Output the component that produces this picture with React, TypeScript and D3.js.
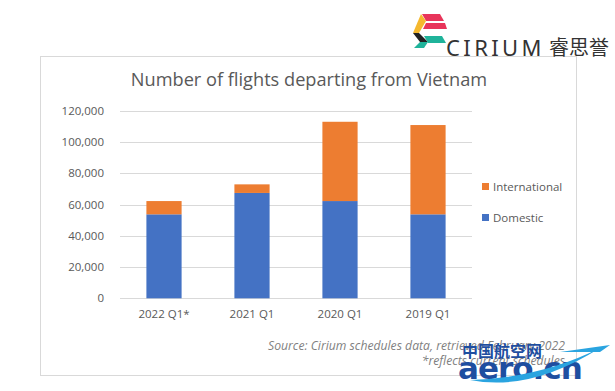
import React, { useRef, useEffect } from 'react';
import * as d3 from 'd3';

const categories = ['2022 Q1*', '2021 Q1', '2020 Q1', '2019 Q1'];
const domestic = [53800, 67500, 62300, 53800];
const international = [8500, 5500, 50800, 57200];
const seriesNames = ['Domestic', 'International'];
const seriesColors = ['#4472c4', '#ed7d31'];
const yTicks = [0, 20000, 40000, 60000, 80000, 100000, 120000];

const App: React.FC = () => {
  const chartRef = useRef<SVGSVGElement>(null);

  useEffect(() => {
    if (!chartRef.current) return;

    const svg = d3.select(chartRef.current);
    svg.selectAll('*').remove();

    const W = 615;
    const H = 391;
    const plot = { left: 120, right: 472, top: 111, bottom: 298.3 };
    const textColor = '#595959';
    const font = '"Open Sans", "Liberation Sans", sans-serif';

    svg.append('rect').attr('width', W).attr('height', H).attr('fill', '#fff');

    // chart frame
    svg.append('rect')
      .attr('x', 40.5).attr('y', 56.5)
      .attr('width', 536).attr('height', 319)
      .attr('fill', '#fff')
      .attr('stroke', '#d9d9d9');

    // title
    svg.append('text')
      .attr('x', 309).attr('y', 86)
      .attr('text-anchor', 'middle')
      .attr('font-family', font)
      .attr('font-size', 18.2)
      .attr('fill', textColor)
      .text('Number of flights departing from Vietnam');

    const x = d3.scaleBand()
      .domain(categories)
      .range([plot.left, plot.right])
      .paddingInner(0.6)
      .paddingOuter(0.3);

    const y = d3.scaleLinear()
      .domain([0, 120000])
      .range([plot.bottom, plot.top]);

    // gridlines
    svg.append('g')
      .selectAll('line')
      .data(yTicks)
      .enter()
      .append('line')
      .attr('x1', plot.left).attr('x2', plot.right)
      .attr('y1', d => Math.round(y(d)) + 0.5)
      .attr('y2', d => Math.round(y(d)) + 0.5)
      .attr('stroke', '#d9d9d9');

    // y labels
    svg.append('g')
      .selectAll('text')
      .data(yTicks)
      .enter()
      .append('text')
      .attr('x', 104)
      .attr('y', d => y(d))
      .attr('dy', '0.35em')
      .attr('text-anchor', 'end')
      .attr('font-family', font)
      .attr('font-size', 11.5)
      .attr('fill', textColor)
      .text(d => d3.format(',')(d));

    // stacked bars
    const rows = categories.map((c, i) => ({ cat: c, Domestic: domestic[i], International: international[i] }));
    const stacked = d3.stack<any>().keys(seriesNames)(rows);

    svg.append('g')
      .selectAll('g')
      .data(stacked)
      .enter()
      .append('g')
      .attr('fill', (_, i) => seriesColors[i])
      .selectAll('rect')
      .data(d => d)
      .enter()
      .append('rect')
      .attr('x', d => x(d.data.cat) || 0)
      .attr('width', x.bandwidth())
      .attr('y', d => y(d[1]))
      .attr('height', d => y(d[0]) - y(d[1]));

    // x labels
    svg.append('g')
      .selectAll('text')
      .data(categories)
      .enter()
      .append('text')
      .attr('x', d => (x(d) || 0) + x.bandwidth() / 2)
      .attr('y', 318)
      .attr('text-anchor', 'middle')
      .attr('font-family', font)
      .attr('font-size', 11.5)
      .attr('fill', textColor)
      .text(d => d);

    // legend (International on top)
    const legend = svg.append('g')
      .selectAll('g')
      .data([1, 0])
      .enter()
      .append('g')
      .attr('transform', (_, i) => `translate(482,${183 + i * 31})`);
    legend.append('rect')
      .attr('width', 7).attr('height', 7)
      .attr('fill', d => seriesColors[d]);
    legend.append('text')
      .attr('x', 11).attr('y', 3.5)
      .attr('dy', '0.35em')
      .attr('font-family', font)
      .attr('font-size', 11.5)
      .attr('fill', textColor)
      .text(d => seriesNames[d]);

    // source note
    svg.append('text')
      .attr('x', 565).attr('y', 350)
      .attr('text-anchor', 'end')
      .attr('font-family', font)
      .attr('font-size', 12.2)
      .attr('font-style', 'italic')
      .attr('fill', '#7f7f7f')
      .text('Source:  Cirium schedules data, retrieved February 2022');
    svg.append('text')
      .attr('x', 565).attr('y', 365)
      .attr('text-anchor', 'end')
      .attr('font-family', font)
      .attr('font-size', 12.2)
      .attr('font-style', 'italic')
      .attr('fill', '#7f7f7f')
      .text('*reflects current schedules');

    // Cirium logo
    const logo = svg.append('g');
    logo.append('polygon').attr('points', '422,14 440,14 444,21 426,21').attr('fill', '#e8345a');
    logo.append('polygon').attr('points', '426,23 445,23 447,29 423,29').attr('fill', '#e8345a');
    logo.append('polygon').attr('points', '421,14 426,21 419,33 413,33').attr('fill', '#f5b82e');
    logo.append('polygon').attr('points', '413,33 419,33 428,42 420,42').attr('fill', '#222');
    logo.append('polygon').attr('points', '420,42 428,42 424,48 414,48').attr('fill', '#1fb39a');
    logo.append('polygon').attr('points', '424,36 442,36 446,43 428,43').attr('fill', '#1fb39a');
    logo.append('text')
      .attr('x', 446).attr('y', 56)
      .attr('font-family', '"Noto Sans", sans-serif')
      .attr('font-size', 22)
      .attr('letter-spacing', 3.4)
      .attr('fill', '#333')
      .text('CIRIUM');
    logo.append('text')
      .attr('x', 549).attr('y', 55)
      .attr('font-family', '"Noto Sans CJK SC", sans-serif')
      .attr('font-size', 20)
      .attr('fill', '#333')
      .text('睿思誉');

    // watermark
    svg.append('text')
      .attr('x', 462).attr('y', 357)
      .attr('font-family', '"Noto Sans CJK SC", sans-serif')
      .attr('font-weight', 'bold')
      .attr('font-size', 16)
      .attr('fill', '#1e4ea0')
      .text('中国航空网');
    svg.append('text')
      .attr('x', 458).attr('y', 379)
      .attr('font-family', '"DejaVu Sans", sans-serif')
      .attr('font-weight', 'bold')
      .attr('font-size', 31)
      .attr('letter-spacing', -1)
      .attr('fill', '#1e4ea0')
      .text('aero.cn');
    svg.append('path')
      .attr('d', 'M470,380 Q530,392 600,348 Q540,378 470,380 Z')
      .attr('fill', '#2aa4e0');
    svg.append('path')
      .attr('d', 'M560,352 L610,345 L600,352 Z')
      .attr('fill', '#2aa4e0');
  }, []);

  return (
    <svg ref={chartRef} width={615} height={391}
      style={{ position: 'fixed', left: 0, top: 0, display: 'block' }} />
  );
};

export default App;
